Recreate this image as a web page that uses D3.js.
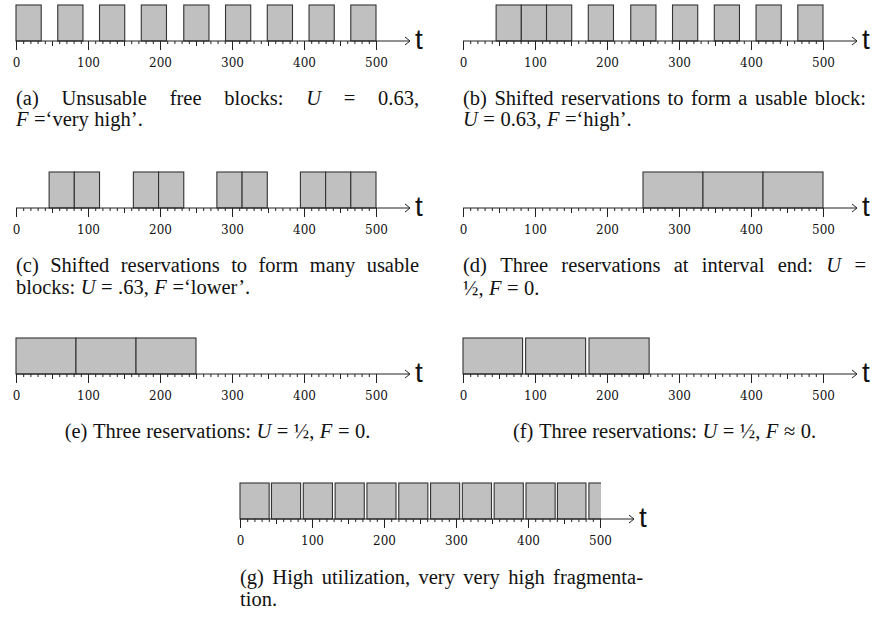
<!DOCTYPE html>
<html>
<head>
<meta charset="utf-8">
<script src="https://d3js.org/d3.v7.min.js"></script>
<style>
  body { margin: 0; background: #fff; }
  svg { display: block; }
  .tick text { font-family: "DejaVu Serif", serif; font-size: 12px; fill: #111; }
  .tick line { stroke: #222; }
  .cap { font-family: "Liberation Serif", "Times New Roman", serif; font-size: 20.5px; fill: #111; }
</style>
</head>
<body>
<svg width="875" height="617"></svg>
<script>
// reservation intervals [start, end] in time units, per sub-figure
var resA = [[0,35],[58,93],[116,151],[174,209],[233,268],[291,326],[349,384],[407,442],[465,500]];
var resB = [[46,81],[81,116],[116,151],[174,209],[233,268],[291,326],[349,384],[407,442],[465,500]];
var resC = [[46,81],[81,116],[163,198],[198,233],[279,314],[314,349],[395,430],[430,465],[465,500]];
var resD = [[250,333.3],[333.3,416.7],[416.7,500]];
var resE = [[0,83.3],[83.3,166.7],[166.7,250]];
var resF = [[0,82.7],[87,170.3],[175,258.5]];
var resG = [[0,40.5],[43.7,84.2],[87.9,128.4],[132.1,172.6],[176.3,216.7],[220.5,260.9],[264.7,305.1],[308.8,349.3],[353,393.5],[397.2,437.7],[440.9,480.5],[484.6,525]];

var majorTicks = [0, 100, 200, 300, 400, 500];
var tickLabels = ["0", "100", "200", "300", "400", "500"];

var capA = ["(a) Unsusable free blocks: U = 0.63,", "F =\u2018very high\u2019."];
var capB = ["(b) Shifted reservations to form a usable block:", "U = 0.63, F =\u2018high\u2019."];
var capC = ["(c) Shifted reservations to form many usable", "blocks: U = .63, F =\u2018lower\u2019."];
var capD = ["(d) Three reservations at interval end: U =", "\u00bd, F = 0."];
var capE = ["(e) Three reservations: U = \u00bd, F = 0."];
var capF = ["(f) Three reservations: U = \u00bd, F \u2248 0."];
var capG = ["(g) High utilization, very very high fragmenta-", "tion."];

var svg = d3.select('svg');
var CAPW = 403;

var panels = [
  {res: resA, x0: 16,  axisY: 41,  cap: capA, capY: [105, 126], mode: 'justify'},
  {res: resB, x0: 463, axisY: 41,  cap: capB, capY: [105, 126], mode: 'justify'},
  {res: resC, x0: 16,  axisY: 208, cap: capC, capY: [272, 294], mode: 'justify'},
  {res: resD, x0: 463, axisY: 208, cap: capD, capY: [272, 295], mode: 'justify'},
  {res: resE, x0: 16,  axisY: 374, cap: capE, capY: [438], mode: 'center'},
  {res: resF, x0: 463, axisY: 374, cap: capF, capY: [438], mode: 'center'},
  {res: resG, x0: 240, axisY: 519, cap: capG, capY: [584, 606], mode: 'justify'}
];

panels.forEach(function(p, i) {
  var x = d3.scaleLinear().domain([0, 500]).range([p.x0, p.x0 + 360]);
  var g = svg.append('g');

  // clip so the last block of (g) is cut at t = 500
  g.append('clipPath').attr('id', 'clip' + i)
    .append('rect')
    .attr('x', x(0) - 2).attr('y', p.axisY - 40)
    .attr('width', x(500) - x(0) + 3).attr('height', 42);

  g.append('g')
    .attr('clip-path', 'url(#clip' + i + ')')
    .selectAll('rect')
    .data(p.res)
    .enter()
    .append('rect')
    .attr('x', function(d) { return x(d[0]); })
    .attr('y', p.axisY - 36)
    .attr('width', function(d) { return x(d[1]) - x(d[0]); })
    .attr('height', 36)
    .attr('fill', '#c0c0c0')
    .attr('stroke', '#333')
    .attr('stroke-width', 1.1);

  // minor, medium and major ticks
  var minor = g.append('g').attr('transform', 'translate(0,' + p.axisY + ')')
    .call(d3.axisBottom(x).tickValues(d3.range(0, 501, 10)).tickSize(3).tickFormat(''));
  var mid = g.append('g').attr('transform', 'translate(0,' + p.axisY + ')')
    .call(d3.axisBottom(x).tickValues(d3.range(50, 501, 100)).tickSize(5).tickFormat(''));
  var major = g.append('g').attr('transform', 'translate(0,' + p.axisY + ')')
    .call(d3.axisBottom(x).tickValues(majorTicks).tickSize(9).tickPadding(8)
      .tickFormat(function(d, k) { return tickLabels[k]; }));
  [minor, mid, major].forEach(function(a) {
    a.select('.domain').remove();
    a.selectAll('text').attr('font-family', null).attr('font-size', null);
  });

  // axis line with open arrow
  var tip = x(500) + 34;
  g.append('line')
    .attr('x1', x(0)).attr('x2', tip)
    .attr('y1', p.axisY).attr('y2', p.axisY)
    .attr('stroke', '#222').attr('stroke-width', 1);
  g.append('path')
    .attr('d', 'M' + (tip - 5) + ',' + (p.axisY - 4) + ' L' + tip + ',' + p.axisY + ' L' + (tip - 5) + ',' + (p.axisY + 4))
    .attr('fill', 'none').attr('stroke', '#222').attr('stroke-width', 1);
  g.append('text')
    .attr('x', tip + 5).attr('y', p.axisY + 8)
    .attr('font-family', '"Liberation Sans", Arial, sans-serif')
    .attr('font-size', 28).attr('fill', '#111')
    .text('t');

  drawCaption(g, p.cap, p.x0, p.capY, p.mode);
});

function drawWord(parent, word, y) {
  var t = parent.append('text').attr('class', 'cap').attr('x', 0).attr('y', y).text(word);
  if (word === 'U' || word === 'F') t.attr('font-style', 'italic');
  return {g: t, w: t.node().getComputedTextLength()};
}

function drawCaption(g, lines, x0, ys, mode) {
  lines.forEach(function(line, li) {
    var words = line.split(' ');
    var items = words.map(function(wd) { return drawWord(g, wd, ys[li]); });
    var total = d3.sum(items, function(d) { return d.w; });
    var gap = 5.5;
    var start = x0;
    var last = li === lines.length - 1;
    if (mode === 'center') {
      start = x0 + (CAPW - (total + gap * (items.length - 1))) / 2;
    } else if (!last && items.length > 1) {
      gap = (CAPW - total) / (items.length - 1);
    }
    var cx = start;
    items.forEach(function(it) {
      it.g.attr('x', cx);
      cx += it.w + gap;
    });
  });
}
</script>
</body>
</html>
